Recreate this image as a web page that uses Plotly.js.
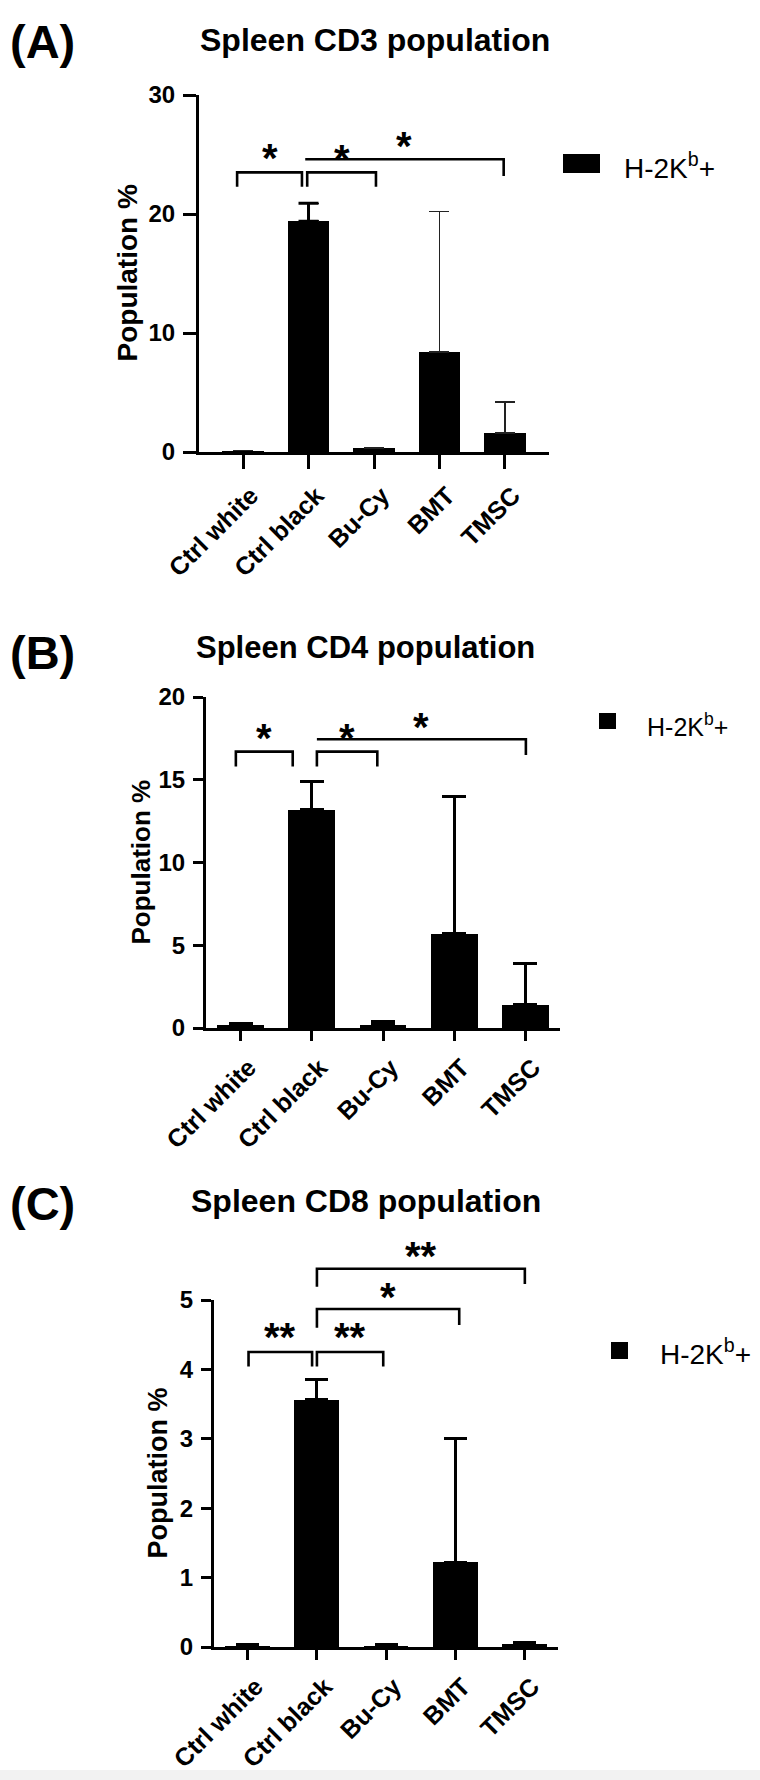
<!DOCTYPE html>
<html>
<head>
<meta charset="utf-8">
<script src="https://cdn.plot.ly/plotly-3.0.1.min.js"></script>
<style>
html,body{margin:0;padding:0;background:#ffffff;}
#chart{width:760px;height:1780px;}
</style>
</head>
<body>
<div id="chart"></div>
<script>
// ---------------- data ----------------
const categories = ['Ctrl white', 'Ctrl black', 'Bu-Cy', 'BMT', 'TMSC'];
const seriesName = 'H-2K<sup>b</sup>+';

const cd3Mean = [0.1, 19.4, 0.3, 8.4, 1.6];
const cd3Err  = [0.05, 1.5, 0.1, 11.8, 2.6];

const cd4Mean = [0.2, 13.2, 0.2, 5.7, 1.4];
const cd4Err  = [0.05, 1.7, 0.2, 8.3, 2.5];

const cd8Mean = [0.02, 3.56, 0.02, 1.22, 0.05];
const cd8Err  = [0.01, 0.29, 0.01, 1.79, 0.02];

const panelLabels = ['(A)', '(B)', '(C)'];
const panelTitles = ['Spleen CD3 population', 'Spleen CD4 population', 'Spleen CD8 population'];
const yTitle = 'Population %';

const yTicksA = [0, 10, 20, 30];
const yTicksB = [0, 5, 10, 15, 20];
const yTicksC = [0, 1, 2, 3, 4, 5];

// significance comparisons: [group from, group to, label]
const compA = [[0, 1, '*'], [1, 2, '*'], [1, 4, '*']];
const compB = [[0, 1, '*'], [1, 2, '*'], [1, 4, '*']];
const compC = [[0, 1, '**'], [1, 2, '**'], [1, 3, '*'], [1, 4, '**']];

// ---------------- layout helpers ----------------
const W = 760, H = 1780;
const FONT = 'Liberation Sans, Arial, Helvetica, sans-serif';
const px2x = p => p / W;
const px2y = p => 1 - p / H;

// bracket geometry (offsets from group index, levels in data units)
const geoA = [
  {dx0: -0.09, dx1: -0.10, top: 23.5, leg0: 22.3, leg1: 22.3, ty: 25.5},
  {dx0: -0.02, dx1: 0.03, top: 23.5, leg0: 22.3, leg1: 22.3, ty: 25.4},
  {dx0: -0.05, dx1: -0.02, top: 24.6, leg0: null, leg1: 23.2, ty: 26.5}
];
const geoB = [
  {dx0: -0.07, dx1: -0.27, top: 16.7, leg0: 15.8, leg1: 15.8, ty: 18.07},
  {dx0: 0.07, dx1: -0.08, top: 16.7, leg0: 15.8, leg1: 15.8, ty: 18.07},
  {dx0: 0.07, dx1: 0.01, top: 17.45, leg0: null, leg1: 16.5, ty: 18.73}
];
const geoC = [
  {dx0: 0.01, dx1: -0.07, top: 4.25, leg0: 4.04, leg1: 4.04, ty: 4.6},
  {dx0: 0.0, dx1: -0.04, top: 4.25, leg0: 4.04, leg1: 4.04, ty: 4.6},
  {dx0: 0.0, dx1: 0.06, top: 4.87, leg0: 4.6, leg1: 4.64, ty: 5.17},
  {dx0: 0.0, dx1: 0.01, top: 5.45, leg0: 5.19, leg1: 5.23, ty: 5.76}
];

const panels = [
  {ax: '', mean: cd3Mean, err: cd3Err, ticks: yTicksA, comps: compA, geo: geoA,
   xL: 199, xR: 549, yTop: 95, yBot: 452, r: [-0.672, 4.672], ymax: 30, barW: 0.64,
   tickLenX: 14, tickLenY: 13, errW: 10, errT: 1.3, errC: '#222', thickIdx: [1], thickT: 3,
   labelY: 41, titleX: 375, titleY: 40, titleSize: 32, yTitleX: 127, yTitleSize: 28,
   leg: {x0: 563, x1: 600, y0: 154, y1: 173, tx: 622, ty: 166, size: 28}},
  {ax: '2', mean: cd4Mean, err: cd4Err, ticks: yTicksB, comps: compB, geo: geoB,
   xL: 206, xR: 560, yTop: 697, yBot: 1028, r: [-0.49, 4.49], ymax: 20, barW: 0.66,
   tickLenX: 10, tickLenY: 10, errW: 12, errT: 3, errC: '#000', thickIdx: [], thickT: 3,
   labelY: 652, titleX: 365, titleY: 647, titleSize: 31, yTitleX: 140, yTitleSize: 26,
   leg: {x0: 599, x1: 616, y0: 713, y1: 729, tx: 645, ty: 725, size: 25}},
  {ax: '3', mean: cd8Mean, err: cd8Err, ticks: yTicksC, comps: compC, geo: geoC,
   xL: 214, xR: 558, yTop: 1300, yBot: 1647, r: [-0.49, 4.49], ymax: 5, barW: 0.65,
   tickLenX: 10, tickLenY: 10, errW: 11.5, errT: 3, errC: '#000', thickIdx: [], thickT: 3,
   labelY: 1203, titleX: 366, titleY: 1201, titleSize: 32, yTitleX: 157, yTitleSize: 27,
   leg: {x0: 611, x1: 628, y0: 1342, y1: 1359, tx: 658, ty: 1352, size: 28}}
];

const traces = [];
const shapes = [];
const annotations = [];
const layout = {
  width: W, height: H,
  margin: {l: 0, r: 0, t: 0, b: 0},
  paper_bgcolor: '#ffffff', plot_bgcolor: '#ffffff',
  showlegend: false,
  font: {family: FONT, color: '#000'},
  bargap: 0
};

panels.forEach((p, k) => {
  const xa = 'x' + p.ax, ya = 'y' + p.ax;
  const catPx = c => p.xL + (c - p.r[0]) / (p.r[1] - p.r[0]) * (p.xR - p.xL);
  const valPx = v => p.yBot - v / p.ymax * (p.yBot - p.yTop);

  traces.push({
    type: 'bar', name: seriesName, x: categories, y: p.mean,
    xaxis: xa, yaxis: ya, width: p.barW,
    marker: {color: '#000', line: {width: 0}},
    error_y: {type: 'data', symmetric: false, array: p.err, arrayminus: p.err.map(() => 0),
              color: p.errC, thickness: p.errT, width: p.errW},
    hoverinfo: 'skip'
  });
  if (p.thickIdx.length) {
    traces.push({
      type: 'scatter', mode: 'markers', x: p.thickIdx.map(i => categories[i]),
      y: p.thickIdx.map(i => p.mean[i]), xaxis: xa, yaxis: ya,
      marker: {size: 1, color: 'rgba(0,0,0,0)'},
      error_y: {type: 'data', symmetric: false, array: p.thickIdx.map(i => p.err[i]),
                arrayminus: p.thickIdx.map(() => 0), color: '#000', thickness: p.thickT, width: p.errW},
      hoverinfo: 'skip', showlegend: false
    });
  }

  layout['xaxis' + p.ax] = {
    domain: [px2x(p.xL), px2x(p.xR)], anchor: ya, type: 'category',
    range: p.r, fixedrange: true,
    showline: true, linewidth: 3, linecolor: '#000', mirror: false,
    ticks: 'outside', ticklen: p.tickLenX, tickwidth: 3, tickcolor: '#000',
    tickangle: -45, showgrid: false, zeroline: false,
    ticklabelshift: 8, ticklabelstandoff: 2,
    tickfont: {family: FONT, size: 25, color: '#000', weight: 700}
  };
  layout['yaxis' + p.ax] = {
    domain: [px2y(p.yBot), px2y(p.yTop)], anchor: xa,
    range: [0, p.ymax], fixedrange: true,
    tickvals: p.ticks, ticktext: p.ticks.map(String),
    showline: true, linewidth: 3, linecolor: '#000',
    ticks: 'outside', ticklen: p.tickLenY, tickwidth: 3, tickcolor: '#000',
    showgrid: false, zeroline: false, ticklabelstandoff: 3,
    tickfont: {family: FONT, size: 24, color: '#000', weight: 700}
  };

  // significance brackets
  p.comps.forEach((c, j) => {
    const g = p.geo[j];
    const x0 = px2x(catPx(c[0] + g.dx0)), x1 = px2x(catPx(c[1] + g.dx1));
    const yt = px2y(valPx(g.top));
    let path = '';
    if (g.leg0 !== null) path += 'M' + x0 + ',' + px2y(valPx(g.leg0)) + ' L' + x0 + ',' + yt;
    else path += 'M' + x0 + ',' + yt;
    path += ' L' + x1 + ',' + yt + ' L' + x1 + ',' + px2y(valPx(g.leg1));
    shapes.push({type: 'path', xref: 'paper', yref: 'paper', path: path,
                 line: {color: '#000', width: 2.6}, fillcolor: 'rgba(0,0,0,0)'});
    const starSize = 40;
    annotations.push({xref: 'paper', yref: 'paper',
      x: px2x(catPx((c[0] + g.dx0 + c[1] + g.dx1) / 2)), y: px2y(valPx(g.ty)),
      xanchor: 'center', yanchor: 'middle', yshift: -0.23 * starSize,
      text: c[2], showarrow: false,
      font: {family: FONT, size: starSize, color: '#000', weight: 700}});
  });

  // panel label
  annotations.push({xref: 'paper', yref: 'paper', x: px2x(8), y: px2y(p.labelY),
    xanchor: 'left', yanchor: 'middle', text: panelLabels[k], showarrow: false,
    font: {family: FONT, size: 47, color: '#000', weight: 700}});
  // panel title
  annotations.push({xref: 'paper', yref: 'paper', x: px2x(p.titleX), y: px2y(p.titleY),
    xanchor: 'center', yanchor: 'middle', text: panelTitles[k], showarrow: false,
    font: {family: FONT, size: p.titleSize, color: '#000', weight: 700}});
  // y axis title
  annotations.push({xref: 'paper', yref: 'paper', x: px2x(p.yTitleX), y: px2y((p.yTop + p.yBot) / 2),
    xanchor: 'center', yanchor: 'middle', textangle: -90, text: yTitle, showarrow: false,
    font: {family: FONT, size: p.yTitleSize, color: '#000', weight: 700}});
  // legend
  shapes.push({type: 'rect', xref: 'paper', yref: 'paper',
    x0: px2x(p.leg.x0), x1: px2x(p.leg.x1), y0: px2y(p.leg.y1), y1: px2y(p.leg.y0),
    fillcolor: '#000', line: {width: 0}});
  annotations.push({xref: 'paper', yref: 'paper', x: px2x(p.leg.tx), y: px2y(p.leg.ty),
    xanchor: 'left', yanchor: 'middle', text: seriesName, showarrow: false,
    font: {family: FONT, size: p.leg.size, color: '#000'}});
});

// light grey strip at the very bottom of the figure
shapes.push({type: 'rect', xref: 'paper', yref: 'paper', x0: 0, x1: 1,
  y0: 0, y1: px2y(1770), fillcolor: '#f2f2f2', line: {width: 0}, layer: 'below'});

layout.shapes = shapes;
layout.annotations = annotations;

Plotly.newPlot('chart', traces, layout, {staticPlot: true, displayModeBar: false});
</script>
</body>
</html>
